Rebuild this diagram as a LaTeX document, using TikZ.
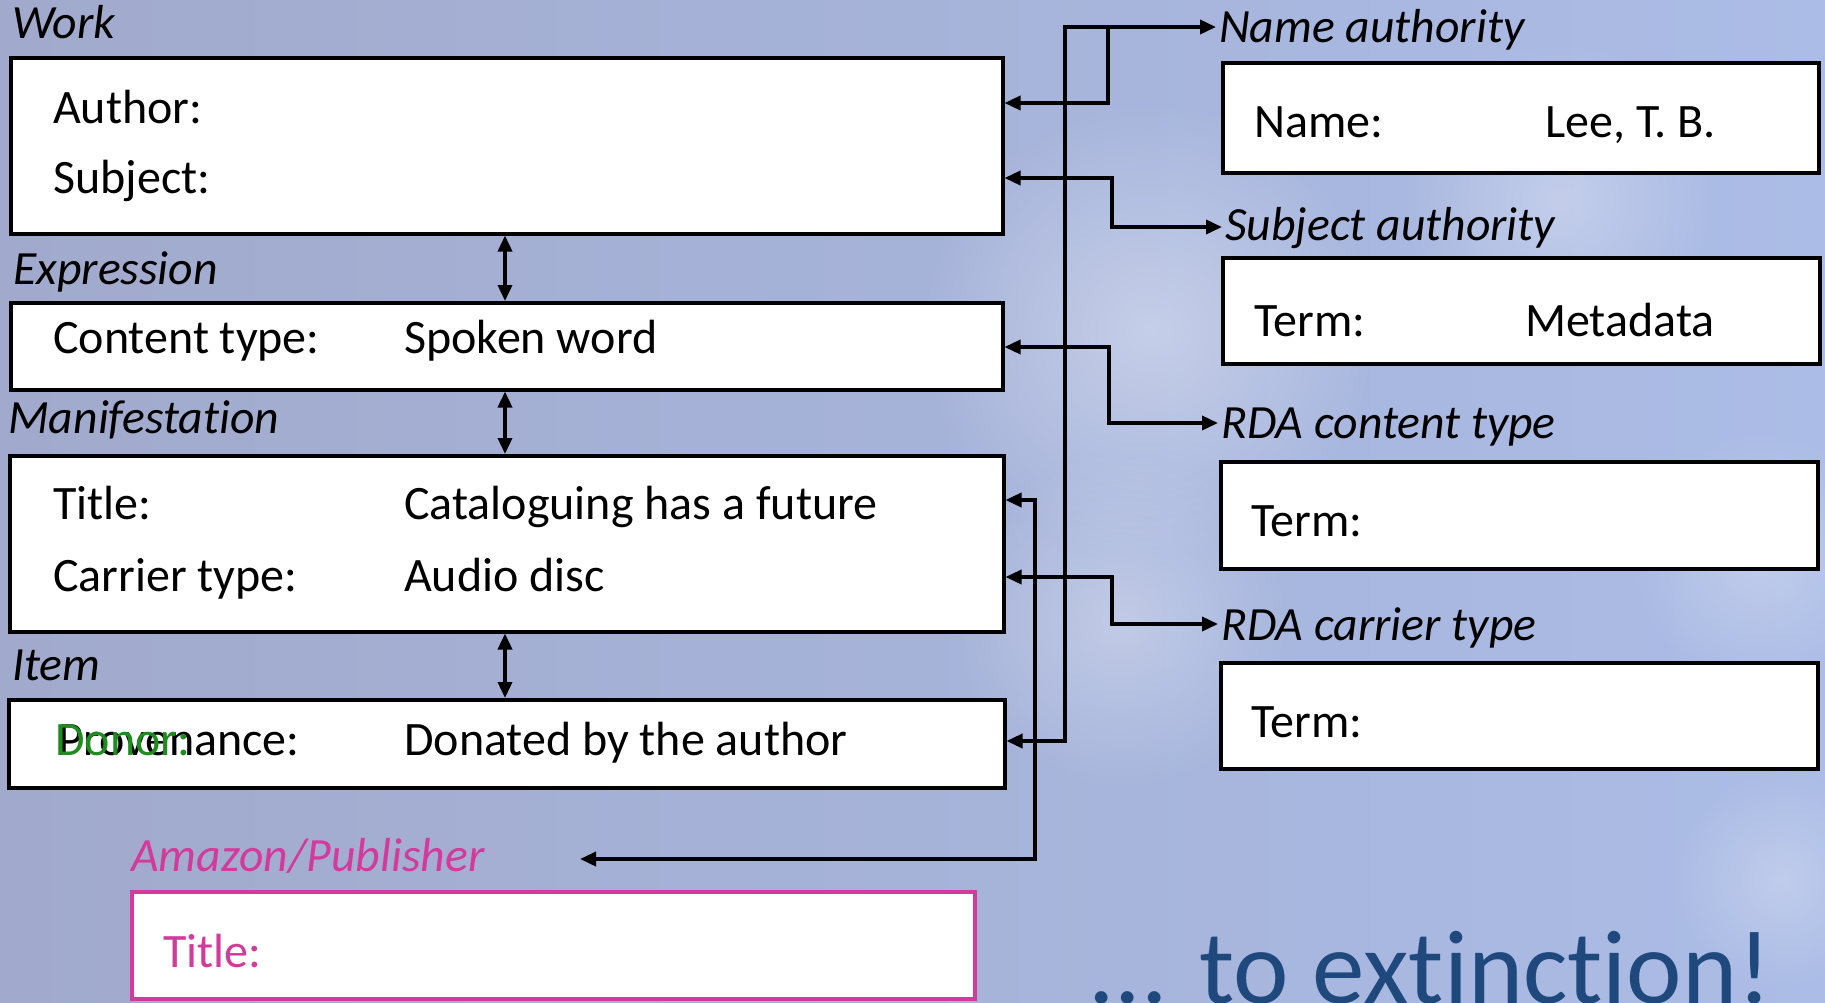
\documentclass[tikz,border=0pt]{standalone}
\usepackage{fontspec}
\setmainfont{Carlito}[Ligatures=NoCommon]
\usetikzlibrary{arrows.meta,fadings}
\definecolor{bgL}{HTML}{A1AACC}
\definecolor{bgR}{HTML}{ABBCE6}
\definecolor{pinkc}{HTML}{D43A9C}
\definecolor{greenc}{HTML}{1E8C1E}
\definecolor{navy}{HTML}{1F497D}
\tikzfading[name=glowfade, inner color=transparent!0, outer color=transparent!100]
\begin{document}
\begin{tikzpicture}[x=1pt,y=-1pt,
  box/.style={draw=black, fill=white, line width=3.5pt, anchor=north west, inner sep=0pt},
  lbl/.style={anchor=base west, inner sep=0pt, font=\fontsize{47.7}{52}\selectfont\itshape},
  txt/.style={anchor=base west, inner sep=0pt, font=\fontsize{48}{52}\selectfont},
  conn/.style={line width=3.5pt, draw=black},
  >={Triangle[length=16pt,width=14pt]}
]
\useasboundingbox (0,0) rectangle (1825,1002);
\clip (0,0) rectangle (1825,1002);
% background
\shade[left color=bgL, right color=bgR] (0,0) rectangle (1825,1002);
\fill[white, opacity=0.35, path fading=glowfade] (1150,330) circle (230);
\fill[white, opacity=0.3, path fading=glowfade] (1120,620) circle (170);
\fill[white, opacity=0.3, path fading=glowfade] (1560,200) circle (160);
\fill[white, opacity=0.25, path fading=glowfade] (1760,560) circle (130);
\fill[white, opacity=0.25, path fading=glowfade] (1780,880) circle (110);

% left column
\node[lbl] (worklab) at (12,38) {Work};
\node[box, minimum width=992pt, minimum height=176pt] (work) at (9,56) {};
\node[txt] (author) at (53,123) {Author:};
\node[txt] (subject) at (53,193) {Subject:};

\node[lbl] (explab) at (13,284) {Expression};
\node[box, minimum width=992pt, minimum height=87pt] (expr) at (9,301) {};
\node[txt] (ctype) at (53,353) {Content type:};
\node[txt] (ctypev) at (404,353) {Spoken word};

\node[lbl] (manlab) at (8,433) {Manifestation};
\node[box, minimum width=994pt, minimum height=176pt] (manif) at (8,454) {};
\node[txt] (title) at (53,519) {Title:};
\node[txt] (titlev) at (404,519) {Cataloguing has a future};
\node[txt] (carr) at (53,591) {Carrier type:};
\node[txt] (carrv) at (404,591) {Audio disc};

\node[lbl] (itemlab) at (12,680) {Item};
\node[box, minimum width=996pt, minimum height=88pt] (item) at (7,698) {};
\node[txt] (prov) at (58,755) {Provenance:};
\node[txt, text=greenc] (donor) at (55,755) {Donor:};
\node[txt] (provv) at (404,755) {Donated by the author};

\node[lbl, text=pinkc] (amlab) at (131,871) {Amazon/Publisher};
\node[box, draw=pinkc, minimum width=843pt, minimum height=107pt] (amaz) at (130,890) {};
\node[txt, text=pinkc] (amtitle) at (163,967) {Title:};

% right column
\node[lbl] (namelab) at (1219,42) {Name authority};
\node[box, minimum width=596pt, minimum height=110pt] (namebox) at (1221,61) {};
\node[txt] (namek) at (1254,137) {Name:};
\node[txt] (namev) at (1545,137) {Lee, T. B.};

\node[lbl] (sublab) at (1225,240) {Subject authority};
\node[box, minimum width=597pt, minimum height=106pt] (subbox) at (1221,256) {};
\node[txt] (subk) at (1254,336) {Term:};
\node[txt] (subv) at (1525,336) {Metadata};

\node[lbl] (rclab) at (1221,438) {RDA content type};
\node[box, minimum width=597pt, minimum height=107pt] (rcbox) at (1219,460) {};
\node[txt] (rck) at (1251,536) {Term:};

\node[lbl] (rcarlab) at (1221,640) {RDA carrier type};
\node[box, minimum width=597pt, minimum height=106pt] (rcarbox) at (1219,661) {};
\node[txt] (rcark) at (1251,737) {Term:};

\node[anchor=base west, inner sep=0pt, font=\fontsize{105}{110}\selectfont, text=navy] (ext) at (1088,1003) {... to extinction!};

% vertical arrows between entities
\draw[conn,<->] (work.south -| 505,0) -- (expr.north -| 505,0);
\draw[conn,<->] (expr.south -| 505,0) -- (manif.north -| 505,0);
\draw[conn,<->] (manif.south -| 505,0) -- (item.north -| 505,0);

% connectors to authorities
\coordinate (amtip) at (580,859);
\draw[conn,<->] (work.east |- 0,103) -- (1108,103) -- (1108,27) -- ([xshift=-3pt]namelab.west |- 0,27);
\draw[conn,<-] (item.east |- 0,741) -- (1065,741) -- (1065,27) -- (1108,27);
\draw[conn,<->] (work.east |- 0,178) -- (1112,178) -- (1112,227) -- ([xshift=-3pt]sublab.west |- 0,227);
\draw[conn,<->] (expr.east |- 0,347) -- (1109,347) -- (1109,423) -- ([xshift=-3pt]rclab.west |- 0,423);
\draw[conn,<->] (manif.east |- 0,577) -- (1112,577) -- (1112,624) -- ([xshift=-3pt]rcarlab.west |- 0,624);
\draw[conn,<->] (manif.east |- 0,500) -- (1035,500) -- (1035,859) -- (amtip);
\end{tikzpicture}
\end{document}
